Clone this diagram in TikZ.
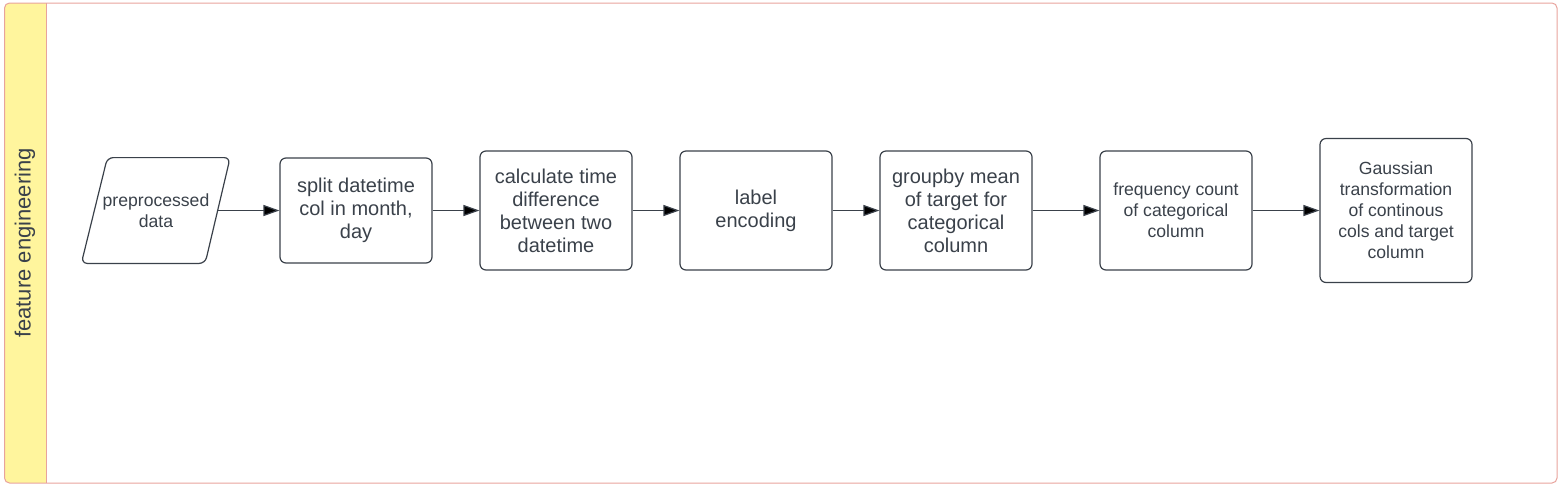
\documentclass[tikz,border=0pt]{standalone}
\usepackage{fontspec}
\setmainfont{Liberation Sans}
\usetikzlibrary{arrows.meta}
\definecolor{lanered}{HTML}{E8A39C}
\definecolor{laneyellow}{HTML}{FFF59D}
\definecolor{inkgray}{HTML}{3A414A}
\tikzset{
  stage/.style={draw=inkgray,line width=0.6pt,rounded corners=3pt,minimum width=76pt,
    align=center,text=inkgray,inner sep=2pt},
  bigtext/.style={font=\fontsize{10}{11.5}\selectfont},
  smalltext/.style={font=\fontsize{8.8}{10.5}\selectfont},
  flow/.style={draw=inkgray,line width=0.6pt,-{Triangle[length=8pt,width=5.5pt]}}
}
\begin{document}
\begin{tikzpicture}[x=0.5pt,y=-0.5pt,node distance=100pt]
\useasboundingbox (0,0) rectangle (1561,488);
% swimlane
\begin{scope}
\clip[rounded corners=2.5pt] (4.5,3) rectangle (1557,483);
\fill[laneyellow] (4.5,3) rectangle (46,483);
\end{scope}
\draw[lanered,line width=0.5pt,rounded corners=2.5pt] (4.5,3) rectangle (1557,483);
\draw[lanered,line width=0.5pt] (46,3) -- (46,483);
\node (lane) [rotate=90,text=inkgray,font=\fontsize{11}{13}\selectfont] at (25,243) {feature engineering};

% input data (parallelogram drawn round the node)
\node (P) [minimum height=52.5pt,minimum width=61.25pt,align=center,text=inkgray,
  smalltext,inner sep=0pt] at (156,210.5) {preprocessed\\data};
\draw[inkgray,line width=0.6pt,rounded corners=3pt]
  ([xshift=6.5pt]P.north west) -- ([xshift=6.25pt]P.north east)
  -- ([xshift=-6.25pt]P.south east) -- ([xshift=-6.5pt]P.south west) -- cycle;
\node (S) [stage,bigtext,minimum height=52.5pt,right of=P] {split datetime\\col in month,\\day};
\node (T) [stage,bigtext,minimum height=59.5pt,right of=S] {calculate time\\difference\\between two\\datetime};
\node (L) [stage,bigtext,minimum height=59.5pt,right of=T] {label\\encoding};
\node (G) [stage,bigtext,minimum height=59.5pt,right of=L] {groupby mean\\of target for\\categorical\\column};
\node (F) [stage,smalltext,minimum height=59.5pt,right of=G,node distance=110pt] {frequency count\\of categorical\\column};
\node (N) [stage,smalltext,minimum height=72pt,right of=F,node distance=110pt] {Gaussian\\transformation\\of continous\\cols and target\\column};

\path[flow] (P) edge (S);
\path[flow] (S) edge (T);
\path[flow] (T) edge (L);
\path[flow] (L) edge (G);
\path[flow] (G) edge (F);
\path[flow] (F) edge (N);
\end{tikzpicture}
\end{document}
